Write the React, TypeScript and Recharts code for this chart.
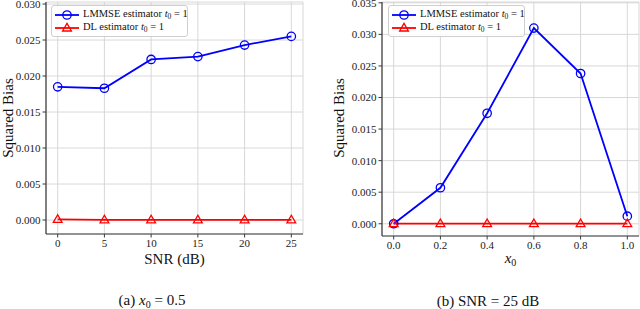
import React from 'react';
import { LineChart, Line, XAxis, YAxis, CartesianGrid } from 'recharts';

// Panel (a): x0 = 0.5, squared bias vs SNR
const snrDb = [0, 5, 10, 15, 20, 25];
const lmmseBySnr = [0.0185, 0.0183, 0.0223, 0.0227, 0.0243, 0.0255];
const dlBySnr = [0.0001, 0.00003, 0.00002, 0.00002, 0.00002, 0.00002];
const snrTicks = [0, 5, 10, 15, 20, 25];
const biasTicksA = [0, 0.005, 0.01, 0.015, 0.02, 0.025, 0.03];

// Panel (b): SNR = 25 dB, squared bias vs x0
const x0Values = [0, 0.2, 0.4, 0.6, 0.8, 1.0];
const lmmseByX0 = [0.0, 0.0057, 0.0175, 0.031, 0.0238, 0.0012];
const dlByX0 = [0.00002, 0.00002, 0.00002, 0.00002, 0.00002, 0.00002];
const x0Ticks = [0, 0.2, 0.4, 0.6, 0.8, 1.0];
const biasTicksB = [0, 0.005, 0.01, 0.015, 0.02, 0.025, 0.03, 0.035];

const dataA = snrDb.map((x, i) => ({ x, lmmse: lmmseBySnr[i], dl: dlBySnr[i] }));
const dataB = x0Values.map((x, i) => ({ x, lmmse: lmmseByX0[i], dl: dlByX0[i] }));

const BLUE = '#0000ff';
const RED = '#ff0000';
const SPINE = '#3a3a3a';
const GRID = '#d4d4d4';
const FONT = '"Liberation Serif", "DejaVu Serif", serif';

const CircleDot = (props: any) => {
  const { cx, cy, index } = props;
  if (cx == null || cy == null) return <g key={`c${index}`} />;
  return <circle key={`c${index}`} cx={cx} cy={cy} r={4.2} fill="none" stroke={BLUE} strokeWidth={1.3} />;
};

const TriDot = (props: any) => {
  const { cx, cy, index } = props;
  if (cx == null || cy == null) return <g key={`t${index}`} />;
  const d = `M${cx},${cy - 4.6} L${cx + 4.4},${cy + 3} L${cx - 4.4},${cy + 3} Z`;
  return <path key={`t${index}`} d={d} fill="none" stroke={RED} strokeWidth={1.3} />;
};

const tickStyle = { fill: '#222', fontSize: 11, fontFamily: FONT };

type PanelProps = {
  data: any[];
  left: number;
  xDomain: [number, number];
  yDomain: [number, number];
  xTicks: number[];
  yTicks: number[];
  xFmt: (v: number) => string;
  yAxisWidth: number;
  marginRight: number;
  marginBottom: number;
};

const Panel = (p: PanelProps) => (
  <div style={{ position: 'absolute', left: p.left, top: 0 }}>
    <LineChart
      width={320}
      height={309}
      data={p.data}
      margin={{ top: 2, right: p.marginRight, bottom: p.marginBottom, left: 0 }}
    >
      <CartesianGrid stroke={GRID} strokeWidth={0.9} />
      <XAxis
        dataKey="x"
        type="number"
        domain={p.xDomain}
        ticks={p.xTicks}
        tickFormatter={p.xFmt}
        allowDataOverflow
        height={20}
        tick={tickStyle}
        tickSize={3.5}
        tickMargin={2}
        axisLine={{ stroke: SPINE, strokeWidth: 1.2 }}
        tickLine={{ stroke: SPINE, strokeWidth: 1 }}
        interval={0}
      />
      <XAxis
        xAxisId="top"
        orientation="top"
        dataKey="x"
        type="number"
        domain={p.xDomain}
        allowDataOverflow
        height={0}
        tick={false}
        tickLine={false}
        axisLine={{ stroke: SPINE, strokeWidth: 1.2 }}
      />
      <YAxis
        type="number"
        domain={p.yDomain}
        ticks={p.yTicks}
        tickFormatter={(v: number) => v.toFixed(3)}
        allowDataOverflow
        width={p.yAxisWidth}
        tick={tickStyle}
        tickSize={3.5}
        tickMargin={2}
        axisLine={{ stroke: SPINE, strokeWidth: 1.2 }}
        tickLine={{ stroke: SPINE, strokeWidth: 1 }}
        interval={0}
      />
      <YAxis
        yAxisId="right"
        orientation="right"
        type="number"
        domain={p.yDomain}
        allowDataOverflow
        width={0}
        tick={false}
        tickLine={false}
        axisLine={{ stroke: SPINE, strokeWidth: 1.2 }}
      />
      <Line
        dataKey="lmmse"
        stroke={BLUE}
        strokeWidth={1.8}
        dot={CircleDot}
        activeDot={false}
        isAnimationActive={false}
        type="linear"
      />
      <Line
        dataKey="dl"
        stroke={RED}
        strokeWidth={1.8}
        dot={TriDot}
        activeDot={false}
        isAnimationActive={false}
        type="linear"
      />
    </LineChart>
  </div>
);

const LegendBox = ({ left }: { left: number }) => {
  const row = (color: string, kind: 'circle' | 'tri', name: string, top: number) => (
    <div style={{ position: 'absolute', left: 3, top, height: 12, display: 'flex', alignItems: 'center' }}>
      <svg width={24} height={12} style={{ display: 'block' }}>
        <line x1={0} y1={6} x2={24} y2={6} stroke={color} strokeWidth={1.8} />
        {kind === 'circle' ? (
          <circle cx={12} cy={6} r={4.2} fill="none" stroke={color} strokeWidth={1.3} />
        ) : (
          <path d="M12,1.4 L16.4,9 L7.6,9 Z" fill="none" stroke={color} strokeWidth={1.3} />
        )}
      </svg>
      <span style={{ marginLeft: 4, fontSize: 10.5, fontFamily: FONT, color: '#111', whiteSpace: 'nowrap', lineHeight: 1 }}>
        {name} <i>t</i>
        <sub style={{ fontSize: 7.5, verticalAlign: -2 }}>0</sub> = 1
      </span>
    </div>
  );
  return (
    <div
      style={{
        position: 'absolute',
        left,
        top: 5,
        width: 137,
        height: 32,
        boxSizing: 'border-box',
        border: '1px solid #cfcfcf',
        borderRadius: 3,
        background: 'rgba(255,255,255,0.85)',
      }}
    >
      {row(BLUE, 'circle', 'LMMSE estimator', 3)}
      {row(RED, 'tri', 'DL estimator', 16)}
    </div>
  );
};

const Label = ({ x, y, children, size = 15, rotate = 0 }: any) => (
  <div
    style={{
      position: 'absolute',
      left: x,
      top: y,
      transform: `translate(-50%, -50%) rotate(${rotate}deg)`,
      fontFamily: FONT,
      fontSize: size,
      color: '#111',
      whiteSpace: 'nowrap',
      lineHeight: 1,
    }}
  >
    {children}
  </div>
);

export default function App() {
  return (
    <div style={{ position: 'relative', width: 640, height: 309, background: '#fff', overflow: 'hidden' }}>
      <style>{'body{margin:0}'}</style>
      <Panel
        data={dataA}
        left={0}
        xDomain={[-1.25, 26.25]}
        yDomain={[-0.00194, 0.03028]}
        xTicks={snrTicks}
        yTicks={biasTicksA}
        xFmt={(v) => String(v)}
        yAxisWidth={46}
        marginRight={17}
        marginBottom={55}
      />
      <Panel
        data={dataB}
        left={320}
        xDomain={[-0.05, 1.05]}
        yDomain={[-0.00194, 0.03513]}
        xTicks={x0Ticks}
        yTicks={biasTicksB}
        xFmt={(v) => v.toFixed(1)}
        yAxisWidth={62}
        marginRight={1}
        marginBottom={53}
      />
      <LegendBox left={51} />
      <LegendBox left={388} />
      <Label x={8} y={118} rotate={-90}>Squared Bias</Label>
      <Label x={339} y={118} rotate={-90}>Squared Bias</Label>
      <Label x={174.5} y={259}>SNR (dB)</Label>
      <Label x={510.5} y={259}>
        <i>x</i>
        <sub style={{ fontSize: 10, verticalAlign: -3 }}>0</sub>
      </Label>
      <Label x={152} y={301}>
        (a) <i>x</i>
        <sub style={{ fontSize: 10, verticalAlign: -3 }}>0</sub> = 0.5
      </Label>
      <Label x={488} y={301}>(b) SNR = 25 dB</Label>
    </div>
  );
}
